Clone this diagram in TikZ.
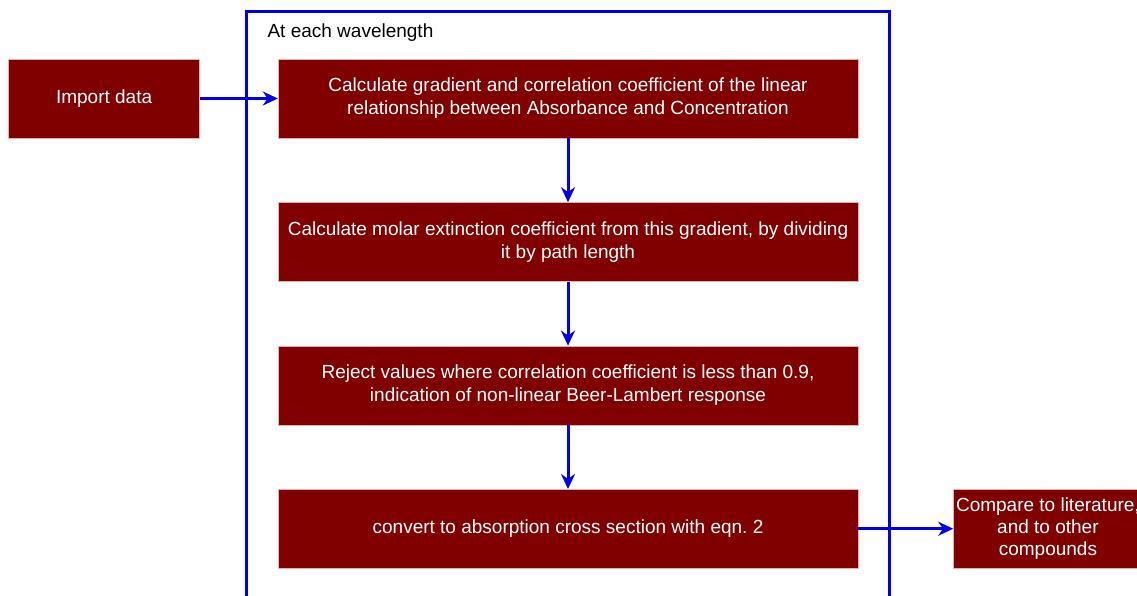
\documentclass[tikz,border=0pt]{standalone}
\usepackage{fontspec}
\setmainfont{Liberation Sans}
\usetikzlibrary{
  arrows.meta,
  positioning,
}
\definecolor{boxred}{RGB}{128, 0, 0}
\definecolor{boxedge}{RGB}{232, 176, 176}
\definecolor{flowblue}{RGB}{0, 0, 235}
\tikzstyle{stepbox} = [
  rectangle,
  draw=boxedge,
  fill=boxred,
  text=white,
  align=center,
  inner sep=0pt,
  minimum width=580,
  minimum height=79,
  font=\fontsize{19}{23}\selectfont,
]
\tikzstyle{arrow} = [
  -{Stealth[length=15pt,width=14pt]},
  line width=3pt,
  flowblue,
]
\tikzstyle{frame} = [
  line width=3pt,
  flowblue,
]

\begin{document}
\begin{tikzpicture}[x=1pt,y=-1pt,node distance=64pt and 78pt]
        \useasboundingbox (0,0) rectangle (1137,595);

        \draw[frame] (246,610) |- (889,11) -- (889,610);
        \node[anchor=base west,font=\fontsize{19}{23}\selectfont] (wavelabel) at (264,37) {At each wavelength};

        \node[stepbox] (gradient) at (568,98.5) {Calculate gradient and correlation coefficient of the linear\\relationship between Absorbance and Concentration};
        \node[stepbox] (molar) [below=of gradient] {Calculate molar extinction coefficient from this gradient, by dividing\\it by path length};
        \node[stepbox] (reject) [below=of molar] {Reject values where correlation coefficient is less than 0.9,\\indication of non-linear Beer-Lambert response};
        \node[stepbox] (convert) [below=of reject] {convert to absorption cross section with eqn.\ 2};

        \node[stepbox,minimum width=191] (import) [left=of gradient] {Import data};
        \node[stepbox,minimum width=189,font=\fontsize{19}{22}\selectfont] (compare) [right=95 of convert] {Compare to literature,\\and to other\\compounds};

        \draw[arrow] (import) -- (gradient);
        \draw[arrow] (gradient) -- (molar);
        \draw[arrow] (molar) -- (reject);
        \draw[arrow] (reject) -- (convert);
        \draw[arrow] (convert) -- (compare);

      \end{tikzpicture}
\end{document}
